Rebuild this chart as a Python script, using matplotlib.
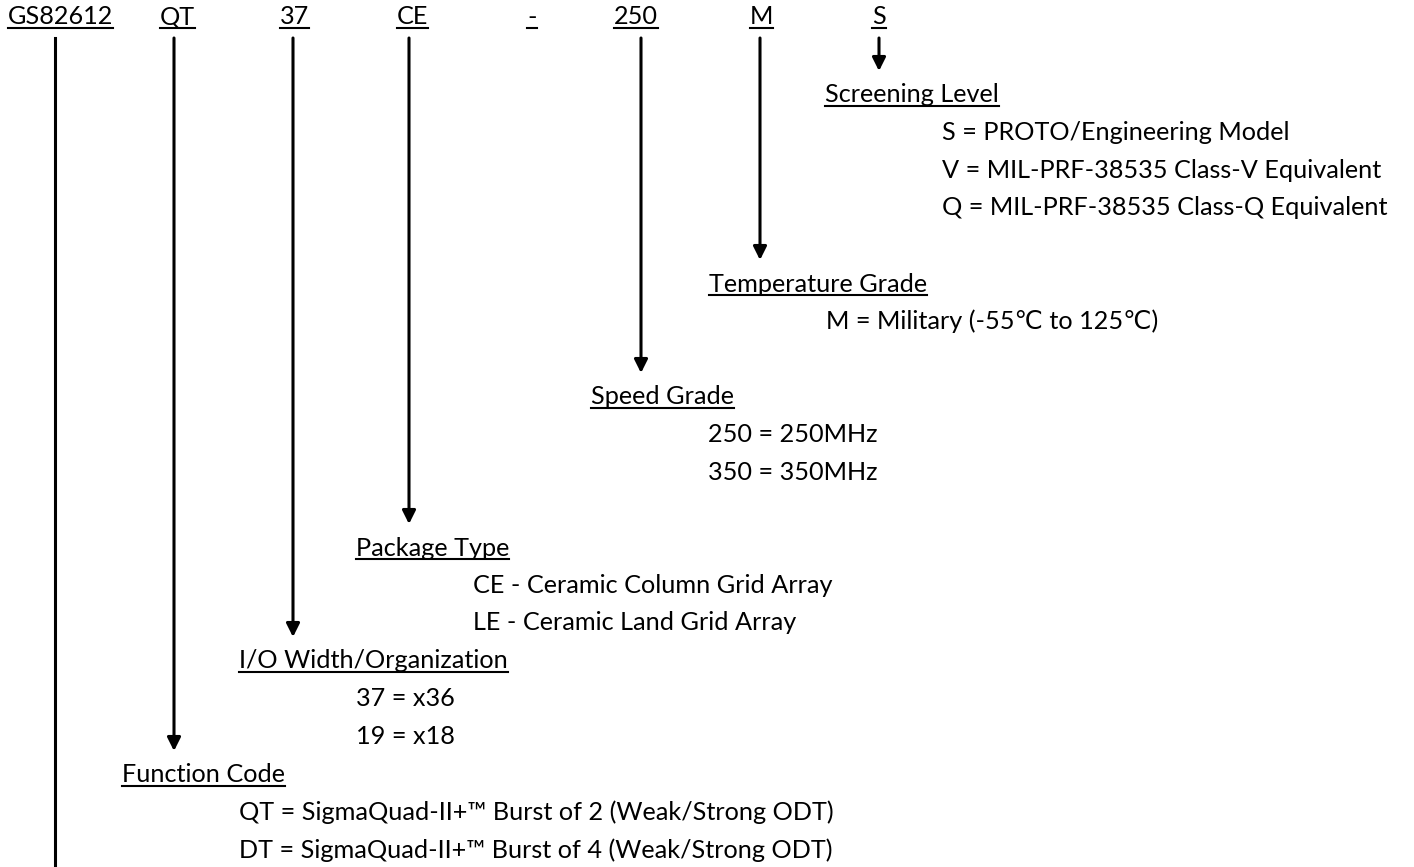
import matplotlib.pyplot as plt

plt.rcParams['font.family'] = ['Lato', 'DejaVu Sans']

# part number fields
codes = ['GS82612', 'QT', '37', 'CE', '-', '250', 'M', 'S']
code_x = [8, 160, 280, 397, 527, 614, 750, 872]

# sections, listed from the top of the picture down
headings = ['Screening Level', 'Temperature Grade', 'Speed Grade',
            'Package Type', 'I/O Width/Organization', 'Function Code']
items = [
    ['S = PROTO/Engineering Model',
     'V = MIL-PRF-38535 Class-V Equivalent',
     'Q = MIL-PRF-38535 Class-Q Equivalent'],
    ['M = Military (-55\u2103 to 125\u2103)'],
    ['250 = 250MHz', '350 = 350MHz'],
    ['CE - Ceramic Column Grid Array', 'LE - Ceramic Land Grid Array'],
    ['37 = x36', '19 = x18'],
    ['QT = SigmaQuad-II+\u2122 Burst of 2 (Weak/Strong ODT)',
     'DT = SigmaQuad-II+\u2122 Burst of 4 (Weak/Strong ODT)'],
]

# layout (pixels)
head_x = [825, 709, 591, 356, 239, 122]
head_y = [95, 284, 397, 548, 661, 775]
item_dy = 37.5
arrow_x = [879, 760, 641, 409, 293, 174]
W, H = 1414, 867
fs = 18.2

fig = plt.figure(figsize=(W / 100, H / 100), dpi=100)
ax = fig.add_axes([0, 0, 1, 1])
ax.set_xlim(0, W)
ax.set_ylim(H, 0)
ax.axis('off')

underlined = []
for c, x in zip(codes, code_x):
    underlined.append(ax.text(x, 17, c, fontsize=fs, va='center', ha='left'))

for i, h in enumerate(headings):
    underlined.append(ax.text(head_x[i], head_y[i], h, fontsize=fs,
                              va='center', ha='left'))
    for j, it in enumerate(items[i]):
        ax.text(head_x[i] + 117, head_y[i] + (j + 1) * item_dy, it,
                fontsize=fs, va='center', ha='left')
    ax.annotate('', xy=(arrow_x[i], head_y[i] - 24), xytext=(arrow_x[i], 38),
                arrowprops=dict(arrowstyle='-|>', color='black', lw=2.2,
                                mutation_scale=20, shrinkA=0, shrinkB=0))

ax.plot([55, 55], [38, H], color='black', lw=2.2)

fig.canvas.draw()
inv = ax.transData.inverted()
for t in underlined:
    bb = t.get_window_extent()
    (x0, y0), (x1, y1) = inv.transform([(bb.x0, bb.y0), (bb.x1, bb.y1)])
    ax.plot([x0, x1], [y0 - 1, y0 - 1], color='black', lw=1.5)

fig.savefig('out.png', dpi=100)
